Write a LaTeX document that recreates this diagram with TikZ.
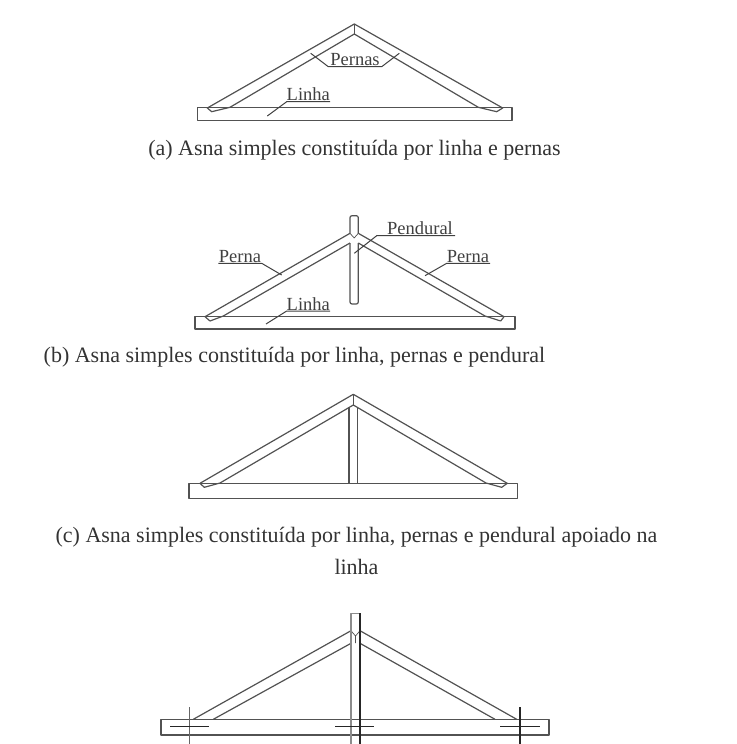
\documentclass[tikz,border=0pt]{standalone}
\usepackage{fontspec}
\setmainfont{Liberation Serif}
\tikzset{
  x=1pt,y=-1pt,
  beam/.style={draw=black!68,line width=1.2pt,line join=round},
  leader/.style={draw=black!75,line width=1pt},
  capt/.style={inner sep=0pt,anchor=base,font=\fontsize{22}{24}\selectfont,text=black!80},
  tag/.style={inner sep=0pt,anchor=base,font=\fontsize{18.5}{20}\selectfont,text=black!75},
  fixing/.style={draw=black!85,line width=1.2pt}
}
\begin{document}
\begin{tikzpicture}
\useasboundingbox (0,0) rectangle (736,744);
% (a)
\draw[beam] (197.3,107.3) rectangle (512,120.7);
\draw[beam] (211.7,111.7) -- (207.3,108) -- (354.3,24) -- (502.7,108) -- (496.7,111.7) -- (478.3,107.3) -- (354.3,34) -- (230,107.3) -- cycle;
\draw[beam] (354.3,24) -- (354.3,34);
\node[tag] (pernasA) at (355,65) {Pernas};
\coordinate (pa1) at (310.7,53.3); \coordinate (pa2) at (399.3,53.3);
\coordinate (pa3) at (328.3,66.7); \coordinate (pa4) at (381.7,66.7);
\draw[leader] (pa1) -- (pa3) -- (pa4) -- (pa2);
\node[tag] (linhaA) at (308.3,100.5) {Linha};
\coordinate (la1) at (267.3,116); \coordinate (la2) at (286.7,101.7); \coordinate (la3) at (330,101.7);
\draw[leader] (la1) -- (la2) -- (la3);
\node[capt] (capA) at (354.5,155) {(a) Asna simples constituída por linha e pernas};
% (b)
\draw[beam] (195,316.7) rectangle (515,329);
\draw[beam,rounded corners=2pt] (350,233.3) -- (350,215.7) -- (358.3,215.7) -- (358.3,233.3);
\draw[beam,rounded corners=2pt] (350,243) -- (350,304) -- (358.3,304) -- (358.3,243);
\draw[beam] (210,321) -- (205,316.7) -- (350,233.3);
\draw[beam] (210,321) -- (223.3,316) -- (350,243);
\draw[beam] (500.7,321) -- (504,316.7) -- (358.3,233.3);
\draw[beam] (500.7,321) -- (485,316) -- (358.3,243);
\draw[beam,line width=.7pt] (350,233.3) -- (354.2,238) -- (358.3,233.3);
\node[tag] (pend) at (420,234.5) {Pendural};
\coordinate (pe1) at (354.3,253.3); \coordinate (pe2) at (376.7,235.7); \coordinate (pe3) at (455,235.7);
\draw[leader] (pe1) -- (pe2) -- (pe3);
\node[tag] (pernaL) at (240,262) {Perna};
\coordinate (pl1) at (218.3,263.3); \coordinate (pl2) at (261.7,263.3); \coordinate (pl3) at (281.7,275);
\draw[leader] (pl1) -- (pl2) -- (pl3);
\node[tag] (pernaR) at (468,262) {Perna};
\coordinate (pr1) at (490,263.3); \coordinate (pr2) at (446.7,263.3); \coordinate (pr3) at (425,275.7);
\draw[leader] (pr1) -- (pr2) -- (pr3);
\node[tag] (linhaB) at (308.3,310) {Linha};
\coordinate (lb1) at (266,324); \coordinate (lb2) at (286.7,311); \coordinate (lb3) at (330,311);
\draw[leader] (lb1) -- (lb2) -- (lb3);
\node[capt] (capB) at (294.5,362) {(b) Asna simples constituída por linha, pernas e pendural};
% (c)
\draw[beam] (189,483.3) rectangle (517.3,498.3);
\draw[beam] (204.3,487.3) -- (200,483.3) -- (353.3,394.3) -- (507.3,483.3) -- (501.7,487.3) -- (486,483) -- (353.3,405) -- (220,483) -- cycle;
\draw[beam] (353.3,394.3) -- (353.3,405);
\draw[beam] (349,407.3) -- (349,483.3) (357.7,407.5) -- (357.7,483.3);
\node[capt] (capC) at (356.5,542) {(c) Asna simples constituída por linha, pernas e pendural apoiado na};
\node[capt] (capC2) at (356.5,574) {linha};
% (d)
\draw[beam] (161,719.3) rectangle (549,735);
\draw[beam] (193.3,719.3) -- (351,630.7);
\draw[beam] (516.7,719.3) -- (360,630.7);
\draw[beam] (213.3,719.3) -- (351,643.3);
\draw[beam] (495,719.3) -- (360,643.3);
\draw[beam,line width=.7pt] (351,630.7) -- (355.5,636) -- (360,630.7) (355.5,636) -- (355.5,643);
\draw[beam,draw=black!45,line width=1.4pt] (351,744) -- (351,613.3) -- (360,613.3);
\draw[fixing,line width=1.6pt] (360,613.3) -- (360,744);
\draw[fixing,draw=black!60] (189.3,707.3) -- (189.3,744);
\draw[fixing] (170,726.7) -- (209.3,726.7);
\draw[fixing] (335,726.7) -- (374,726.7);
\draw[fixing,line width=1.6pt] (520,707.3) -- (520,744);
\draw[fixing] (500,726.7) -- (540,726.7);
\end{tikzpicture}
\end{document}
